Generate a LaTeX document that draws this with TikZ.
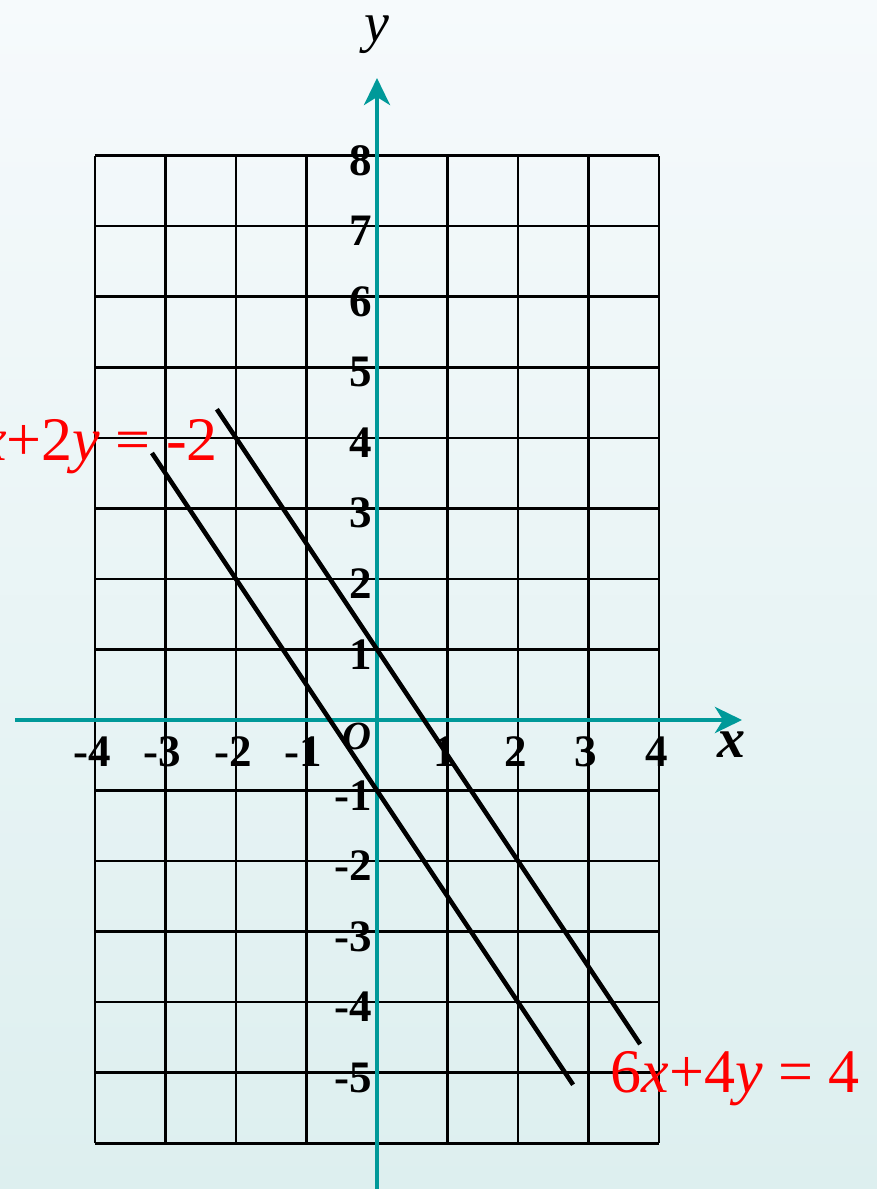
\documentclass[tikz,border=0pt]{standalone}
\usepackage{fontspec}
\setmainfont{Liberation Serif}
\usetikzlibrary{arrows.meta}
\definecolor{bgtop}{RGB}{246,250,252}
\definecolor{bgbot}{RGB}{221,239,239}
\definecolor{axisc}{RGB}{0,153,153}
\definecolor{eqred}{RGB}{255,0,0}
\tikzset{
  gridline/.style={line width=2.6bp, black},
  axisline/.style={line width=4.2bp, axisc, -{Stealth[length=27bp,width=26bp,inset=8bp]}},
  graphline/.style={line width=4.6bp, black},
  ticklab/.style={inner sep=0pt, font=\fontsize{45bp}{50bp}\selectfont\bfseries},
  eqlab/.style={inner sep=0pt, text=eqred, font=\fontsize{62bp}{70bp}\selectfont},
  axlab/.style={inner sep=0pt, font=\fontsize{56bp}{64bp}\selectfont}
}
\begin{document}
\begin{tikzpicture}[x=70.55bp,y=70.55bp]
\useasboundingbox (-5.344,-6.648) rectangle (7.087,10.206);
\shade[top color=bgtop, bottom color=bgbot] (-5.344,-6.648) rectangle (7.087,10.206);
% grid
\foreach \i in {-4,...,4}{
  \draw[gridline] (\i,-6) -- (\i,8);
}
\foreach \j in {-6,...,8}{
  \draw[gridline] (-4,\j) -- (4,\j);
}
% axes
\coordinate (xs) at (-5.131,0);
\coordinate (xe) at (5.174,0);
\coordinate (ys) at (0,-6.7);
\coordinate (ye) at (0,9.10);
\draw[axisline] (xs) -- (xe);
\draw[axisline] (ys) -- (ye);
% axis labels
\node[axlab] (xlab) at (5.02,-0.354) {\textbf{\textit{x}}};
\node[axlab] (ylab) at (0,9.72) {\textit{y}};
\node[inner sep=0pt, font=\fontsize{40bp}{46bp}\selectfont] (olab) at (-0.29,-0.24) {\textbf{\textit{O}}};
% x tick labels
\foreach \k in {-4,-3,-2,-1,1,2,3,4}{
  \node[ticklab] (xt\k) at (\k-0.04,-0.45) {\k};
}
% y tick labels
\foreach \k in {-5,-4,-3,-2,-1,1,2,3,4,5,6,7,8}{
  \node[ticklab, anchor=east] (yt\k) at (-0.07,\k-0.07) {\k};
}
% graph lines
\coordinate (a1) at (-3.19,3.785);
\coordinate (a2) at (2.78,-5.17);
\coordinate (b1) at (-2.27,4.405);
\coordinate (b2) at (3.73,-4.595);
\draw[graphline] (a1) -- (a2);
\draw[graphline] (b1) -- (b2);
% equation labels
\node[eqlab, anchor=base east] (eq1) at (-2.254,3.685) {3\textit{x}+2\textit{y} = -2};
\node[eqlab, anchor=base west] (eq2) at (3.31,-5.287) {6\textit{x}+4\textit{y} = 4};
\end{tikzpicture}
\end{document}
